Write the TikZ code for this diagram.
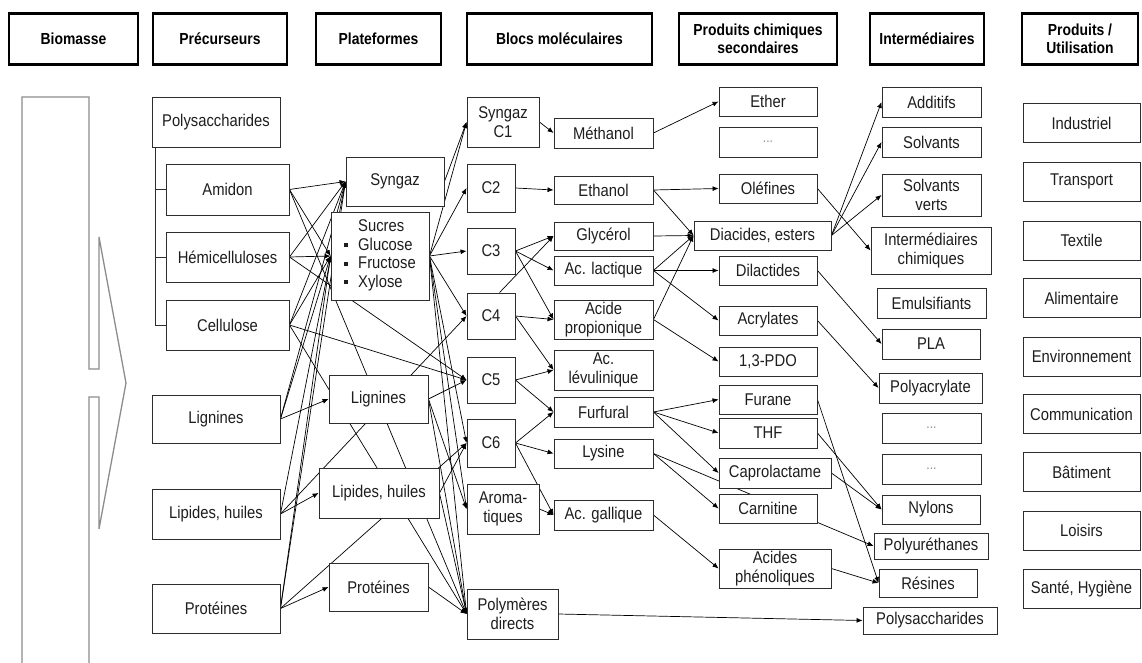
\documentclass[tikz,border=0pt]{standalone}
\usepackage{fontspec}
\setmainfont{Liberation Sans}[FakeStretch=0.87]
\usetikzlibrary{arrows.meta,backgrounds,positioning}
\definecolor{boxline}{RGB}{45,45,45}
\definecolor{txt}{RGB}{30,30,30}
\definecolor{bioline}{RGB}{140,140,140}
\definecolor{dotgray}{RGB}{140,140,140}
\newcommand{\sqb}{\raisebox{3pt}{\rule{4pt}{4pt}}}
\newcommand{\pts}{{\color{dotgray}\fontsize{14}{15}\selectfont ...}}
\tikzset{
  head/.style={draw=black,line width=2.4pt,fill=white,align=center,
    font=\fontsize{16}{18}\selectfont\bfseries,inner sep=1pt},
  box/.style={draw=boxline,line width=0.9pt,fill=white,align=center,text=txt,
    font=\fontsize{17}{18.5}\selectfont,inner sep=1pt},
  fl/.style={draw=black,line width=0.7pt,-{Latex[length=6pt,width=5pt]}},
}
\begin{document}
\begin{tikzpicture}[x=1pt,y=-1pt]
\useasboundingbox (0,0) rectangle (1142,663);

% Column titles
\node[head,minimum width=129,minimum height=51] (hBio) at (73.5,39) {Biomasse};
\node[head,minimum width=134,minimum height=51] (hPre) at (220,39) {Précurseurs};
\node[head,minimum width=125,minimum height=51] (hPla) at (378.5,39) {Plateformes};
\node[head,minimum width=185,minimum height=51] (hBlo) at (559.5,39) {Blocs moléculaires};
\node[head,minimum width=158,minimum height=51] (hPcs) at (758,39) {Produits chimiques\\secondaires};
\node[head,minimum width=114,minimum height=51] (hInt) at (927,39) {Intermédiaires};
\node[head,minimum width=116,minimum height=51] (hUti) at (1080,39) {Produits /\\Utilisation};

% Biomass arrow
\draw[bioline,line width=1.3pt] (22,663) -- (22,97) -- (89,97) -- (89,369) -- (99,369) -- (99,237)
  -- (126,383) -- (99,529) -- (99,397) -- (89,397) -- (89,663);

% Precursors
\node[box,minimum width=128,minimum height=50] (polyP) at (216,122) {Polysaccharides};
\node[box,minimum width=123,minimum height=51] (amidon) at (227.5,189.5) {Amidon};
\node[box,minimum width=123,minimum height=50] (hemi) at (227.5,257) {Hémicelluloses};
\node[box,minimum width=123,minimum height=50] (cellu) at (227.5,325) {Cellulose};
\node[box,minimum width=128,minimum height=48] (preLign) at (216,419) {Lignines};
\node[box,minimum width=128,minimum height=50] (preLip) at (216,514) {Lipides, huiles};
\node[box,minimum width=128,minimum height=49] (preProt) at (216,608.5) {Protéines};
\coordinate (brk) at ([xshift=4pt]polyP.south west);
\draw[boxline,line width=0.9pt] (brk) |- (cellu.west);
\draw[boxline,line width=0.9pt] (brk |- amidon.west) -- (amidon.west);
\draw[boxline,line width=0.9pt] (brk |- hemi.west) -- (hemi.west);

% Platforms
\node[box,minimum width=98,minimum height=49] (plaSyn) at (395,181.5) {Syngaz};
\node[box,minimum width=98,minimum height=88] (plaSuc) at (380,256) {%
  \begin{tabular}{@{}l@{\hspace{10pt}}l@{}} & Sucres\\ \sqb & Glucose\\ \sqb & Fructose\\ \sqb & Xylose\end{tabular}};
\node[box,minimum width=99,minimum height=48] (plaLign) at (378.5,399) {Lignines};
\node[box,minimum width=120,minimum height=50] (plaLip) at (379,493) {Lipides, huiles};
\node[box,minimum width=99,minimum height=48] (plaProt) at (378.5,587) {Protéines};

% Building blocks
\node[box,minimum width=72,minimum height=50] (c1) at (503,122) {Syngaz\\C1};
\node[box,minimum width=48,minimum height=48] (c2) at (491,188) {C2};
\node[box,minimum width=48,minimum height=46] (c3) at (491,251) {C3};
\node[box,minimum width=48,minimum height=46] (c4) at (491,316) {C4};
\node[box,minimum width=48,minimum height=46] (c5) at (491,380) {C5};
\node[box,minimum width=48,minimum height=48] (c6) at (491,443) {C6};
\node[box,minimum width=72,minimum height=50] (arom) at (503,509) {Aroma-\\tiques};
\node[box,minimum width=91,minimum height=50] (polym) at (512.5,614) {Polymères\\directs};
\node[box,minimum width=99,minimum height=30] (methanol) at (603.5,133) {Méthanol};
\node[box,minimum width=99,minimum height=28] (ethanol) at (603.5,190) {Ethanol};
\node[box,minimum width=99,minimum height=28] (glycerol) at (603.5,236) {Glycérol};
\node[box,minimum width=99,minimum height=29] (lactique) at (603.5,270.5) {Ac. lactique};
\node[box,minimum width=99,minimum height=39] (propio) at (603.5,319.5) {Acide\\propionique};
\node[box,minimum width=99,minimum height=40] (levul) at (603.5,370) {Ac.\\lévulinique};
\node[box,minimum width=99,minimum height=30] (furfural) at (603.5,412) {Furfural};
\node[box,minimum width=99,minimum height=29] (lysine) at (603.5,453.5) {Lysine};
\node[box,minimum width=99,minimum height=30] (gallique) at (603.5,515) {Ac. gallique};

% Secondary chemicals
\node[box,minimum width=98,minimum height=29] (ether) at (768,101.5) {Ether};
\node[box,minimum width=98,minimum height=30] (pts1) at (768,142) {\pts};
\node[box,minimum width=98,minimum height=29] (olefines) at (768,188.5) {Oléfines};
\node[box,minimum width=137,minimum height=29] (diacides) at (762.5,235.5) {Diacides, esters};
\node[box,minimum width=98,minimum height=29] (dilact) at (768,270.5) {Dilactides};
\node[box,minimum width=98,minimum height=29] (acryl) at (768,320.5) {Acrylates};
\node[box,minimum width=98,minimum height=29] (pdo) at (768,361.5) {1,3-PDO};
\node[box,minimum width=98,minimum height=29] (furane) at (768,399.5) {Furane};
\node[box,minimum width=98,minimum height=30] (thf) at (768,433) {THF};
\node[box,minimum width=112,minimum height=30] (capro) at (775,473) {Caprolactame};
\node[box,minimum width=98,minimum height=29] (carni) at (768,508.5) {Carnitine};
\node[box,minimum width=112,minimum height=39] (phenol) at (775,568.5) {Acides\\phénoliques};

% Intermediates
\node[box,minimum width=99,minimum height=30] (additifs) at (931.5,102) {Additifs};
\node[box,minimum width=99,minimum height=30] (solv) at (931.5,142) {Solvants};
\node[box,minimum width=99,minimum height=42] (solvv) at (931.5,195) {Solvants\\verts};
\node[box,minimum width=120,minimum height=47] (intchim) at (931,250.5) {Intermédiaires\\chimiques};
\node[box,minimum width=109,minimum height=30] (emuls) at (931.5,303) {Emulsifiants};
\node[box,minimum width=98,minimum height=30] (pla) at (931,344) {PLA};
\node[box,minimum width=103,minimum height=30] (polyacr) at (930.5,388) {Polyacrylate};
\node[box,minimum width=99,minimum height=30] (pts2) at (931.5,428) {\pts};
\node[box,minimum width=99,minimum height=30] (pts3) at (931.5,469) {\pts};
\node[box,minimum width=98,minimum height=29] (nylons) at (931,509.5) {Nylons};
\node[box,minimum width=114,minimum height=26] (polyur) at (931,546) {Polyuréthanes};
\node[box,minimum width=98,minimum height=28] (resines) at (928,583) {Résines};
\node[box,minimum width=134,minimum height=27] (polysac) at (930,620.5) {Polysaccharides};

% Uses
\foreach \nm/\yy/\lbl in {ind/123/Industriel, tra/181.5/Transport, tex/240.5/Textile,
    ali/298/Alimentaire, env/356.5/Environnement, com/414/Communication,
    bat/472/Bâtiment, loi/530.5/Loisirs, san/589/{Santé, Hygiène}}
  \node[box,minimum width=117,minimum height=39] (\nm) at (1081.5,\yy) {\lbl};

% Connectors
\begin{scope}[on background layer]
  % precursors -> platforms and blocks
  \foreach \a/\b in {amidon/plaSyn, hemi/plaSyn, cellu/plaSyn, preLign/plaSyn, preLip/plaSyn, preProt/plaSyn,
      amidon/plaSuc, hemi/plaSuc, cellu/plaSuc, preLign/plaSuc, preProt/plaSuc,
      preLign/plaLign, preLip/plaLip, preProt/plaProt,
      hemi/c5, cellu/c5, amidon/polym, cellu/polym, preLip/c4, preProt/c6}
    \draw[fl] (\a.east) -- (\b.west);
  % platforms -> blocks
  \foreach \a/\b in {plaSyn/c1, plaSuc/c1, plaSuc/c2, plaSuc/c3, plaSuc/c4, plaSuc/c6, plaSuc/arom, plaSuc/polym,
      plaLign/c5, plaLign/arom, plaLign/polym, plaLip/c6, plaLip/polym, plaProt/polym}
    \draw[fl] (\a.east) -- (\b.west);
  % blocks -> molecules
  \foreach \a/\b in {c1/methanol, c2/ethanol, c3/glycerol, c3/lactique, c3/propio,
      c4/propio, c4/levul, c5/levul, c5/furfural, c6/furfural, c6/lysine, c6/gallique, arom/gallique}
    \draw[fl] (\a.east) -- (\b.west);
  \draw[fl] (c4.70) -- (glycerol.west);
  % molecules -> secondary chemicals
  \foreach \a/\b in {methanol/ether, ethanol/olefines, ethanol/diacides, glycerol/diacides,
      lactique/diacides, lactique/dilact, lactique/acryl, propio/diacides, propio/pdo,
      furfural/furane, furfural/thf, furfural/capro, lysine/carni, lysine/polyur,
      gallique/phenol, polym/polysac}
    \draw[fl] (\a.east) -- (\b.west);
  % secondary chemicals -> intermediates
  \foreach \a/\b in {diacides/additifs, diacides/solv, diacides/solvv, olefines/intchim,
      dilact/pla, acryl/polyacr, furane/resines, thf/nylons, capro/nylons, phenol/resines}
    \draw[fl] (\a.east) -- (\b.west);
\end{scope}

\end{tikzpicture}
\end{document}
